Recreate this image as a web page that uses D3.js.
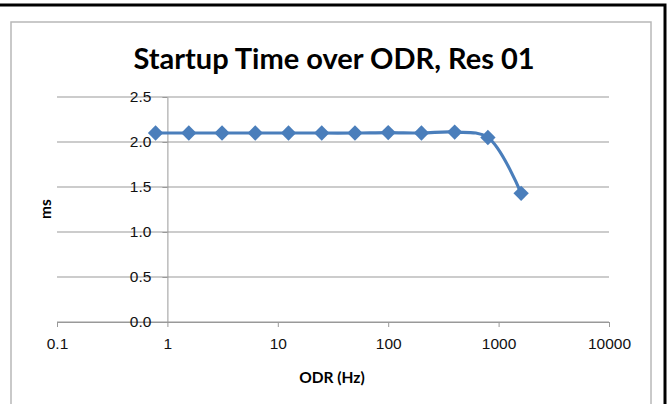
<!DOCTYPE html>
<html>
<head>
    <meta charset="utf-8">
    <style>
        body { margin: 0; background: white; }
        svg { display: block; font-family: Lato, 'Open Sans', sans-serif; }
    </style>
    <title>Startup Time over ODR, Res 01</title>
</head>
<body>
    <svg width="668" height="404"></svg>
<script src="https://d3js.org/d3.v7.min.js"></script>
<script>
    let odr = [0.78125, 1.5625, 3.125, 6.25, 12.5, 25, 50, 100, 200, 400, 800, 1600];
    let startup = [2.10, 2.10, 2.10, 2.10, 2.10, 2.10, 2.10, 2.105, 2.10, 2.11, 2.05, 1.43];
    let xTicks = [0.1, 1, 10, 100, 1000, 10000];
    let yTicks = [0, 0.5, 1.0, 1.5, 2.0, 2.5];

    let svg = d3.select('svg');
    let blue = '#4a7ebb';

    // outer frame and chart area
    svg.append('rect')
        .attr('x', -5).attr('y', 5)
        .attr('width', 670).attr('height', 420)
        .attr('fill', 'none').attr('stroke', 'black').attr('stroke-width', 3);
    svg.append('rect')
        .attr('x', 11).attr('y', 22)
        .attr('width', 640).attr('height', 400)
        .attr('fill', 'white').attr('stroke', '#b8b8b8').attr('stroke-width', 1.5);

    let x = d3.scaleLog().domain([0.1, 10000]).range([57, 609]);
    let y = d3.scaleLinear().domain([0, 2.5]).range([322, 97]);

    // gridlines
    svg.append('g')
        .selectAll('line')
        .data(yTicks)
        .join('line')
        .attr('x1', x(0.1)).attr('x2', x(10000))
        .attr('y1', d => y(d)).attr('y2', d => y(d))
        .attr('stroke', '#999').attr('stroke-width', 1);

    // x axis
    let xAxis = svg.append('g')
        .attr('transform', `translate(0,${y(0)})`)
        .call(d3.axisBottom(x).tickValues(xTicks).tickFormat(d => d).tickSize(5).tickSizeOuter(0));
    xAxis.select('.domain').attr('stroke', '#999');
    xAxis.selectAll('.tick line').attr('stroke', '#999');
    xAxis.selectAll('.tick text')
        .attr('font-size', 15.5).attr('fill', '#111').attr('dy', '1.25em');

    // y axis crosses at x = 1
    let yAxis = svg.append('g')
        .attr('transform', `translate(${x(1)},0)`)
        .call(d3.axisLeft(y).tickValues(yTicks).tickFormat(d3.format('.1f')).tickSize(5).tickSizeOuter(0));
    yAxis.select('.domain').attr('stroke', '#999');
    yAxis.selectAll('.tick line').attr('stroke', '#999');
    yAxis.selectAll('.tick text')
        .attr('font-size', 15.5).attr('fill', '#111').attr('x', -16);

    // series
    let line = d3.line()
        .x((d, i) => x(odr[i]))
        .y(d => y(d))
        .curve(d3.curveCatmullRom.alpha(0.5));

    svg.append('path')
        .datum(startup)
        .attr('d', line)
        .attr('fill', 'none')
        .attr('stroke', blue)
        .attr('stroke-width', 3.2);

    svg.append('g')
        .selectAll('path')
        .data(startup)
        .join('path')
        .attr('d', d3.symbol(d3.symbolDiamond2, 150))
        .attr('transform', (d, i) => `translate(${x(odr[i])},${y(d)})`)
        .attr('fill', blue);

    // titles
    svg.append('text')
        .attr('x', 334).attr('y', 69)
        .attr('text-anchor', 'middle')
        .attr('font-size', 29).attr('font-weight', 'bold')
        .text('Startup Time over ODR, Res 01');

    svg.append('text')
        .attr('x', 332).attr('y', 383)
        .attr('text-anchor', 'middle')
        .attr('font-size', 15.5).attr('font-weight', 'bold')
        .text('ODR (Hz)');

    svg.append('text')
        .attr('transform', 'translate(51,209) rotate(-90)')
        .attr('text-anchor', 'middle')
        .attr('font-size', 15.5).attr('font-weight', 'bold')
        .text('ms');
</script>
</body>
</html>
